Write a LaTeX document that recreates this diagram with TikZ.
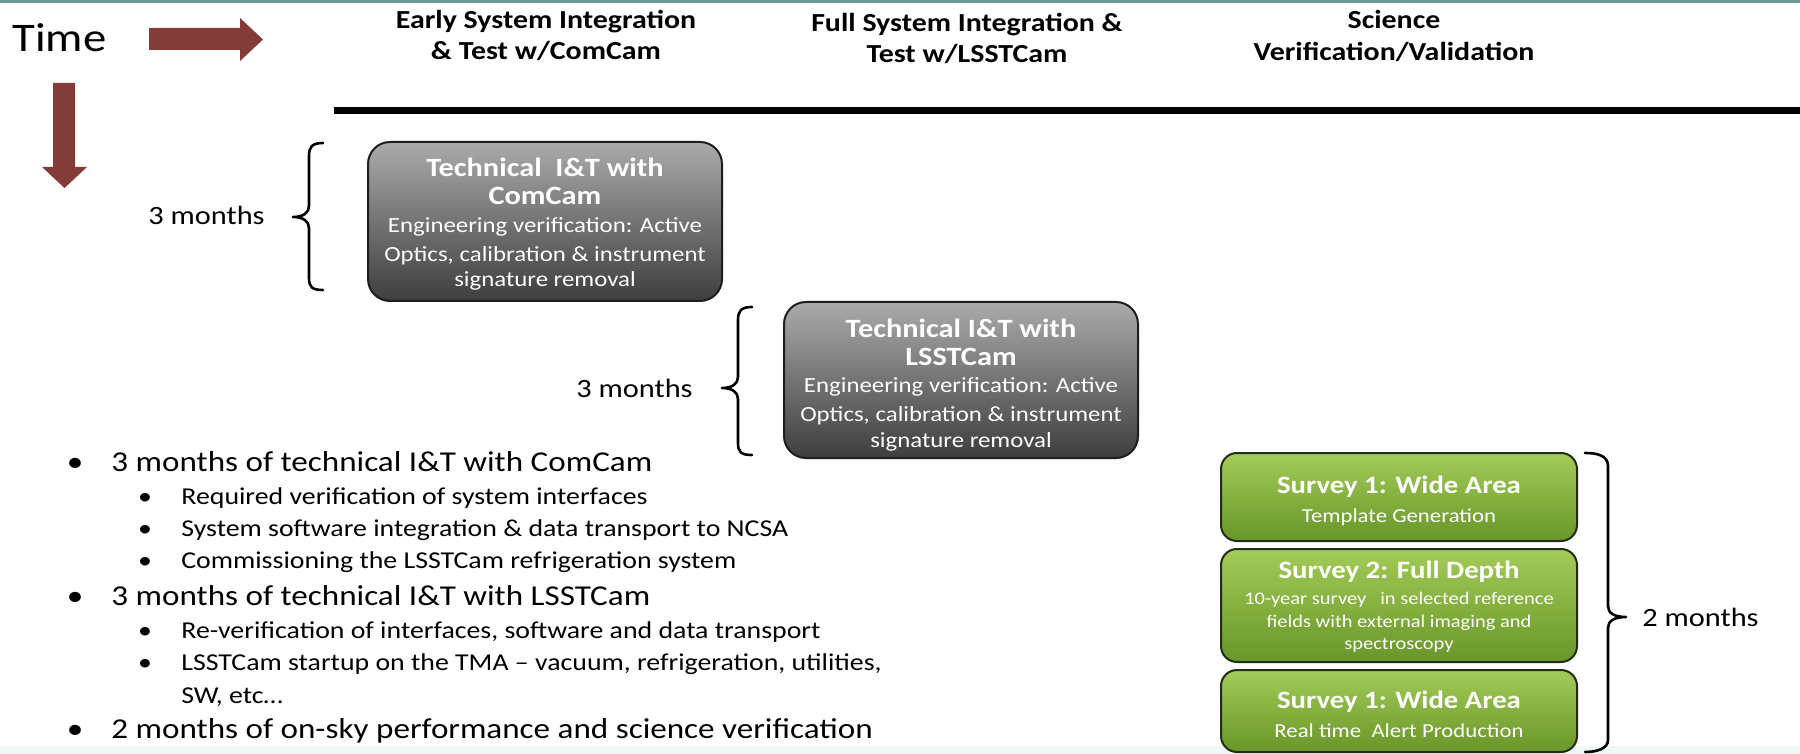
\documentclass[tikz,border=0pt]{standalone}
\usepackage{fontspec}
\setmainfont{Carlito}[FakeStretch=1.15]
\definecolor{tealline}{RGB}{107,153,149}
\definecolor{arrowred}{RGB}{132,60,57}
\definecolor{graytop}{RGB}{170,170,170}
\definecolor{graybot}{RGB}{62,62,62}
\definecolor{grayedge}{RGB}{30,30,30}
\definecolor{greentop}{RGB}{163,203,88}
\definecolor{greenbot}{RGB}{104,150,40}
\definecolor{greenedge}{RGB}{35,45,20}
\definecolor{bottomtint}{RGB}{238,249,247}
\tikzset{
  hdr/.style={font=\bfseries\fontsize{13}{15}\selectfont, anchor=base, inner sep=0pt},
  ttl/.style={font=\bfseries\fontsize{13.2}{15}\selectfont, text=white, anchor=base, inner sep=0pt},
  bdy/.style={font=\fontsize{10.8}{13}\selectfont, text=white, anchor=base, inner sep=0pt},
  gttl/.style={font=\bfseries\fontsize{12.5}{14}\selectfont, text=white, anchor=base, inner sep=0pt},
  gbdy/.style={font=\fontsize{9.9}{12}\selectfont, text=white, anchor=base, inner sep=0pt},
  gbdysmall/.style={font=\fontsize{8.9}{11}\selectfont, text=white, anchor=base, inner sep=0pt},
  lvla/.style={font=\fontsize{14.4}{17}\selectfont, anchor=base west, inner sep=0pt},
  lvlb/.style={font=\fontsize{12.1}{14}\selectfont, anchor=base west, inner sep=0pt},
  bula/.style={font=\fontsize{14.4}{17}\selectfont, anchor=base, inner sep=0pt},
  bulb/.style={font=\fontsize{12.1}{14}\selectfont, anchor=base, inner sep=0pt},
  months/.style={font=\fontsize{13.2}{15}\selectfont, inner sep=0pt},
  bracestroke/.style={line width=1.3pt, line cap=round, line join=round},
  graybox/.style={draw=grayedge, line width=1pt, rounded corners=11pt, top color=graytop, bottom color=graybot, inner sep=0pt, minimum width=177pt},
  greenbox/.style={draw=greenedge, line width=1pt, rounded corners=8pt, top color=greentop, bottom color=greenbot, inner sep=0pt, minimum width=178pt},
  blockarrow/.style={fill=arrowred, draw=none}
}
\begin{document}
\begin{tikzpicture}[x=0.5pt,y=-0.5pt]
\useasboundingbox (0,0) rectangle (1800,754);
\fill[white] (0,0) rectangle (1800,754);
\fill[bottomtint] (0,746) rectangle (1800,754);
\fill[tealline] (0,0) rectangle (1800,3.5);

% Time label and arrows
\node[font=\fontsize{20.3}{22}\selectfont, anchor=base west, inner sep=0pt] (time) at (12,52) {Time};
\fill[blockarrow] (149,28) -- (240,28) -- (240,18) -- (263,39.5) -- (240,61) -- (240,50) -- (149,50) -- cycle;
\fill[blockarrow] (53,83) -- (75,83) -- (75,167) -- (87,167) -- (64.5,188) -- (42,167) -- (53,167) -- cycle;

% column headers
\node[hdr] (h1a) at (546,29) {Early System Integration};
\node[hdr] (h1b) at (546,60) {\& Test w/ComCam};
\node[hdr] (h2a) at (967,32) {Full System Integration \&};
\node[hdr] (h2b) at (967,63) {Test w/LSSTCam};
\node[hdr] (h3a) at (1394,29) {Science};
\node[hdr] (h3b) at (1394,61) {Verification/Validation};
\draw[line width=3.2pt, black] (334,110.5) -- (1800,110.5);

% gray box 1
\node[graybox, minimum height=79.5pt] (b1) at (545,221.5) {};
\node[ttl] (b1t1) at (545,177) {Technical\ \ I\&T with};
\node[ttl] (b1t2) at (545,205) {ComCam};
\node[bdy] (b1l1) at (545,233) {Engineering verification: Active};
\node[bdy] (b1l2) at (545,262) {Optics, calibration \& instrument};
\node[bdy] (b1l3) at (545,287) {signature removal};

% gray box 2
\node[graybox, minimum height=78pt] (b2) at (961,380) {};
\node[ttl] (b2t1) at (961,337) {Technical I\&T with};
\node[ttl] (b2t2) at (961,365) {LSSTCam};
\node[bdy] (b2l1) at (961,393) {Engineering verification: Active};
\node[bdy] (b2l2) at (961,422) {Optics, calibration \& instrument};
\node[bdy] (b2l3) at (961,447) {signature removal};

% braces and durations
\draw[bracestroke] (323,143) .. controls (312,143) and (309,147) .. (309,156) -- (309,206) .. controls (309,213) and (303,217) .. (293,217) .. controls (303,217) and (309,221) .. (309,228) -- (309,278) .. controls (309,287) and (312,290) .. (323,290);
\node[months, anchor=base east] (m1) at (265,225) {3 months};
\draw[bracestroke] (752,307) .. controls (741,307) and (738,311) .. (738,320) -- (738,377) .. controls (738,384) and (732,388) .. (722,388) .. controls (732,388) and (738,392) .. (738,399) -- (738,443) .. controls (738,452) and (741,455) .. (752,455);
\node[months, anchor=base east] (m2) at (693,398) {3 months};
\draw[bracestroke] (1585,453) .. controls (1596,453) and (1608,455) .. (1608,466) -- (1608,606) .. controls (1608,613) and (1614,617) .. (1626,617) .. controls (1614,617) and (1608,621) .. (1608,628) -- (1608,740) .. controls (1608,749) and (1596,752) .. (1585,752);
\node[months, anchor=base west] (m3) at (1642,626) {2 months};

% green boxes
\node[greenbox, minimum height=44pt] (g1) at (1399,497) {};
\node[gttl] (g1t) at (1399,493) {Survey 1: Wide Area};
\node[gbdy] (g1b) at (1399,522) {Template Generation};
\node[greenbox, minimum height=56.5pt] (g2) at (1399,605.5) {};
\node[gttl] (g2t) at (1399,578) {Survey 2: Full Depth};
\node[gbdysmall] (g2b1) at (1399,604) {10-year survey\ \ \ in selected reference};
\node[gbdysmall] (g2b2) at (1399,627) {fields with external imaging and};
\node[gbdysmall] (g2b3) at (1399,649) {spectroscopy};
\node[greenbox, minimum height=41pt] (g3) at (1399,711) {};
\node[gttl] (g3t) at (1399,708) {Survey 1: Wide Area};
\node[gbdy] (g3b) at (1399,737) {Real time\ \ Alert Production};

% bullet list
\node[bula] (p1) at (75,471) {•};
\node[lvla] (t1) at (111,471) {3 months of technical I\&T with ComCam};
\node[bulb] (p2) at (145,504) {•};
\node[lvlb] (t2) at (181,504) {Required verification of system interfaces};
\node[bulb] (p3) at (145,536) {•};
\node[lvlb] (t3) at (181,536) {System software integration \& data transport to NCSA};
\node[bulb] (p4) at (145,568) {•};
\node[lvlb] (t4) at (181,568) {Commissioning the LSSTCam refrigeration system};
\node[bula] (p5) at (75,605) {•};
\node[lvla] (t5) at (111,605) {3 months of technical I\&T with LSSTCam};
\node[bulb] (p6) at (145,638) {•};
\node[lvlb] (t6) at (181,638) {Re-verification of interfaces, software and data transport};
\node[bulb] (p7) at (145,670) {•};
\node[lvlb] (t7) at (181,670) {LSSTCam startup on the TMA – vacuum, refrigeration, utilities,};
\node[lvlb] (t8) at (181,703) {SW, etc…};
\node[bula] (p9) at (75,738) {•};
\node[lvla] (t9) at (111,738) {2 months of on-sky performance and science verification};
\end{tikzpicture}
\end{document}
